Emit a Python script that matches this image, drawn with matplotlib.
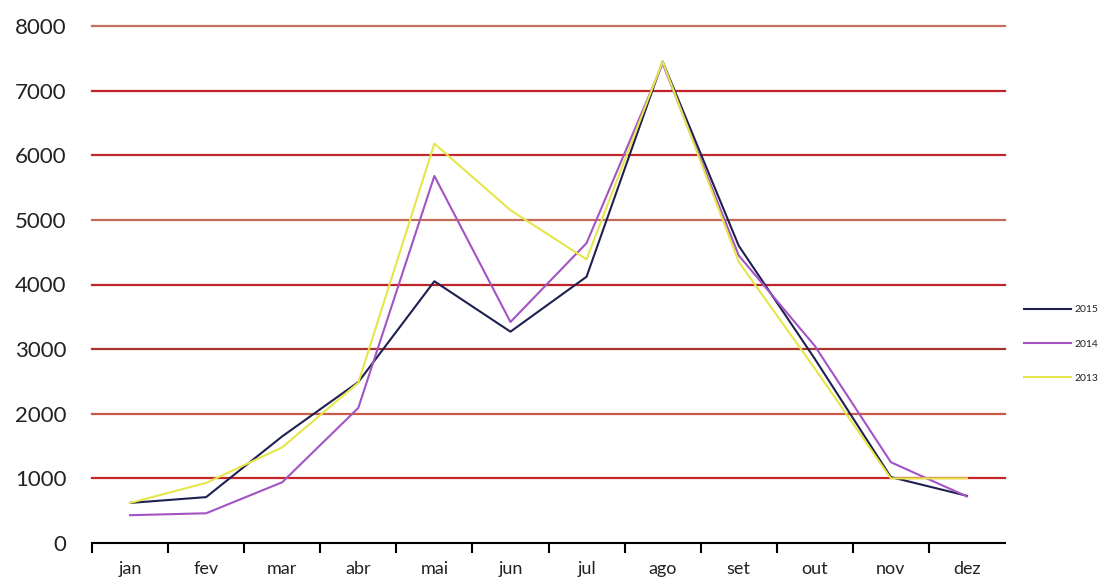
import matplotlib
matplotlib.use("Agg")
import matplotlib.pyplot as plt
from matplotlib.ticker import FixedLocator

plt.rcParams['font.family'] = ['Lato', 'DejaVu Sans']

months = ["jan", "fev", "mar", "abr", "mai", "jun", "jul", "ago", "set", "out", "nov", "dez"]
series_2015 = [620, 710, 1650, 2490, 4050, 3270, 4120, 7450, 4600, 2850, 1020, 730]
series_2014 = [430, 460, 940, 2090, 5680, 3420, 4640, 7420, 4450, 3050, 1250, 720]
series_2013 = [620, 930, 1480, 2480, 6180, 5150, 4390, 7450, 4350, 2700, 1000, 1000]
years = ["2015", "2014", "2013"]
colors = ["#1e2050", "#a453c4", "#e6e64a"]
y_ticks = [0, 1000, 2000, 3000, 4000, 5000, 6000, 7000, 8000]

fig = plt.figure(figsize=(11.03, 5.80), dpi=100)
ax = fig.add_axes([92 / 1103, 1 - 543 / 580, (1005 - 92) / 1103, (543 - 26) / 580])

# red horizontal guide lines
grid_colors = {1000: "#c8262a", 2000: "#c85a48", 3000: "#a8322c", 4000: "#c02428",
               5000: "#c46a58", 6000: "#c0282c", 7000: "#c02228", 8000: "#c47060"}
for v in y_ticks[1:]:
    ax.axhline(v, color=grid_colors[v], lw=1.6, zorder=1, clip_on=False)

x = list(range(len(months)))
for vals, col, lab in zip([series_2015, series_2014, series_2013], colors, years):
    ax.plot(x, vals, color=col, lw=1.5, label=lab, zorder=3)

ax.set_xlim(-0.5, len(months) - 0.5)
ax.set_ylim(0, 8000)

for s in ["top", "right", "left"]:
    ax.spines[s].set_visible(False)
ax.spines["bottom"].set_color("black")
ax.spines["bottom"].set_linewidth(1.5)

ax.set_xticks(x)
ax.set_xticklabels(months, fontsize=13, color="#222222")
ax.xaxis.set_minor_locator(FixedLocator([i - 0.5 for i in range(len(months))]))
ax.tick_params(axis="x", which="major", length=0, pad=13)
ax.tick_params(axis="x", which="minor", length=7, width=1.5, direction="out", color="black")

ax.set_yticks(y_ticks)
ax.set_yticklabels([str(v) for v in y_ticks], fontsize=16, color="#222222")
ax.tick_params(axis="y", length=0, pad=18.5)

leg = fig.legend(loc="center left", bbox_to_anchor=(1024 / 1103, 1 - 344 / 580),
                 frameon=False, fontsize=7.5, handlelength=4.5, handletextpad=0.35,
                 labelspacing=2.4, borderpad=0, borderaxespad=0)
for t in leg.get_texts():
    t.set_color("#222222")

fig.savefig("out.png", dpi=100)
